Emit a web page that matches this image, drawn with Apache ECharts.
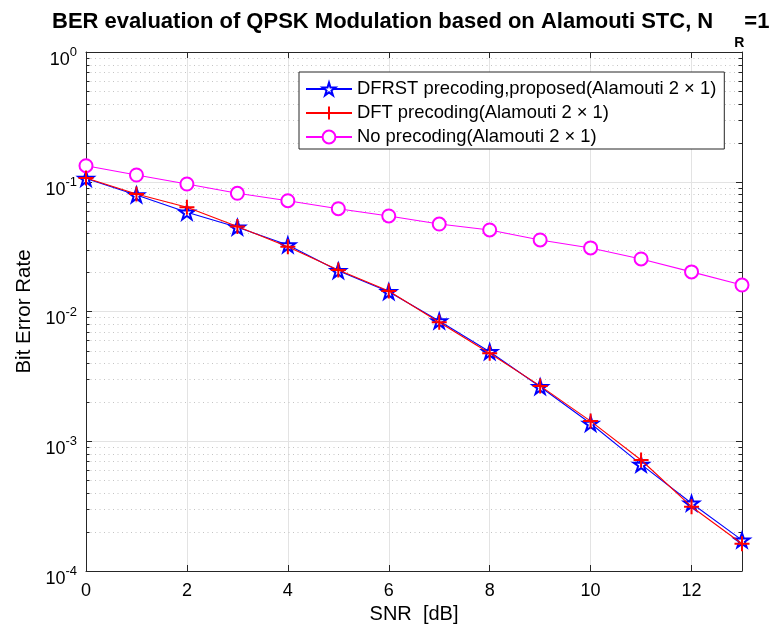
<!DOCTYPE html>
<html><head><meta charset="utf-8">
<script src="https://cdn.jsdelivr.net/npm/echarts@6/dist/echarts.min.js"></script>
<style>html,body{margin:0;padding:0;background:#fff}#c{width:773px;height:630px}</style>
</head><body><div id="c"></div>
<script>
const snr = [0,1,2,3,4,5,6,7,8,9,10,11,12,13];
const berDFRST = [0.106,0.0791,0.0582,0.0446,0.0326,0.0206,0.0142,0.00845,0.00490,0.00263,0.00137,0.000664,0.000333,0.000173];
const berDFT   = [0.107,0.0805,0.0636,0.0452,0.0316,0.0209,0.0144,0.00826,0.00476,0.00267,0.00143,0.000717,0.000313,0.000162];
const berNone  = [0.133,0.1127,0.0961,0.0815,0.0714,0.0620,0.0545,0.0472,0.0425,0.0356,0.0309,0.0254,0.0202,0.0160];
const seriesNames = ['DFRST precoding,proposed(Alamouti 2 \u00d7 1)','DFT precoding(Alamouti 2 \u00d7 1)','No precoding(Alamouti 2 \u00d7 1)'];
const minorGrid = [2e-4,3e-4,4e-4,5e-4,6e-4,7e-4,8e-4,9e-4,
                   2e-3,3e-3,4e-3,5e-3,6e-3,7e-3,8e-3,9e-3,
                   2e-2,3e-2,4e-2,5e-2,6e-2,7e-2,8e-2,9e-2,
                   0.2,0.3,0.4,0.5,0.6,0.7,0.8,0.9];
const xMin = 0, xMax = 13, xStep = 2, yMin = 1e-4, yMax = 1;

const FONT = '"Liberation Sans", Arial, Helvetica, sans-serif';
const AX = '#262626';
const STAR = 'emptyPath://M0,-100 L22.45,-30.9 L95.1,-30.9 L36.33,11.8 L58.78,80.9 L0,38.2 L-58.78,80.9 L-36.33,11.8 L-95.1,-30.9 L-22.45,-30.9 Z';
const PLUS = 'emptyPath://M0,-100 L0,100 M-100,0 L100,0';

const chart = echarts.init(document.getElementById('c'), null, {renderer:'canvas'});
const pair = (ys) => snr.map((x,i)=>[x, ys[i]]);

const yLabel = {
  show:true, margin:9, color:'#000', fontFamily:FONT,
  formatter: v => '{b|10}{s|' + Math.round(Math.log10(v)) + '}',
  rich:{
    b:{fontSize:18, fontFamily:FONT, color:'#000', lineHeight:20, verticalAlign:'top', padding:[9,0,0,0]},
    s:{fontSize:13, fontFamily:FONT, color:'#000', lineHeight:13, verticalAlign:'top', padding:[4,0,0,0]}
  }
};

chart.setOption({
  animation:false,
  backgroundColor:'#fff',
  title:{
    left:52, top:11, padding:0,
    text:'{a|BER evaluation of QPSK Modulation based on Alamouti STC, N}{g| }{s|R}{a|=1}',
    textStyle:{
      fontFamily:FONT, fontSize:22, fontWeight:'bold', color:'#000',
      rich:{
        a:{fontFamily:FONT, fontSize:22, fontWeight:'bold', color:'#000', lineHeight:26, verticalAlign:'top'},
        g:{fontSize:10, width:21, lineHeight:26, verticalAlign:'top'},
        s:{fontFamily:FONT, fontSize:14, fontWeight:'bold', color:'#000', lineHeight:14, verticalAlign:'top', padding:[25,0,0,0]}
      }
    }
  },
  legend:{
    data:seriesNames, orient:'vertical', left:299, top:72,
    itemWidth:46, itemHeight:16, itemGap:6,
    padding:[8,8,3,6],
    backgroundColor:'#fff', borderColor:AX, borderWidth:1,
    textStyle:{fontFamily:FONT, fontSize:18.4, color:'#000'}
  },
  grid:{left:86, top:52, width:656, height:519, containLabel:false},
  xAxis:[{
    type:'value', min:xMin, max:xMax, interval:xStep,
    name:'SNR  [dB]', nameLocation:'middle', nameGap:31,
    nameTextStyle:{fontFamily:FONT, fontSize:20, color:'#000'},
    axisLine:{show:true, onZero:false, lineStyle:{color:AX, width:1}},
    axisTick:{show:true, inside:true, length:6, lineStyle:{color:AX}},
    axisLabel:{show:true, margin:11, fontFamily:FONT, fontSize:18, color:'#000', showMaxLabel:false},
    splitLine:{show:true, lineStyle:{color:'#e3e3e3', width:1}}
  },{
    type:'value', min:xMin, max:xMax, interval:xStep, position:'top',
    axisLine:{show:true, onZero:false, lineStyle:{color:AX, width:1}},
    axisTick:{show:true, inside:true, length:6, lineStyle:{color:AX}},
    axisLabel:{show:false}, splitLine:{show:false}
  }],
  yAxis:[{
    type:'log', logBase:10, min:yMin, max:yMax,
    name:'Bit Error Rate', nameLocation:'middle', nameGap:50,
    nameTextStyle:{fontFamily:FONT, fontSize:20.5, color:'#000'},
    axisLine:{show:true, onZero:false, lineStyle:{color:AX, width:1}},
    axisTick:{show:true, inside:true, length:6, lineStyle:{color:AX}},
    axisLabel:yLabel,
    splitLine:{show:true, lineStyle:{color:'#e3e3e3', width:1}}
  },{
    type:'log', logBase:10, min:yMin, max:yMax, position:'right',
    axisLine:{show:true, onZero:false, lineStyle:{color:AX, width:1}},
    axisTick:{show:true, inside:true, length:6, lineStyle:{color:AX}},
    axisLabel:{show:false}, splitLine:{show:false}
  }],
  series:[
    {
      type:'custom', name:'minorGrid', silent:true, z:1,
      xAxisIndex:0, yAxisIndex:0,
      data:minorGrid.map(v=>[xMin, v]),
      renderItem:(params, api)=>{
        const cs = params.coordSys;
        const y = Math.round(api.coord([xMin, api.value(1)])[1]) + 0.5;
        return {type:'group', children:[
          {type:'line', shape:{x1:cs.x, y1:y, x2:cs.x+cs.width, y2:y}, style:{stroke:'#c4c4c4', lineWidth:1, lineDash:[1,3.5]}},
          {type:'line', shape:{x1:cs.x, y1:y, x2:cs.x+3.5, y2:y}, style:{stroke:AX, lineWidth:1}},
          {type:'line', shape:{x1:cs.x+cs.width-3.5, y1:y, x2:cs.x+cs.width, y2:y}, style:{stroke:AX, lineWidth:1}}
        ]};
      }
    },
    {
      type:'line', name:seriesNames[0], data:pair(berDFRST), z:3,
      symbol:STAR, symbolSize:15, symbolKeepAspect:true,
      itemStyle:{color:'#0000ff', borderWidth:1.3},
      lineStyle:{color:'#0000ff', width:1.1}
    },
    {
      type:'line', name:seriesNames[1], data:pair(berDFT), z:4,
      symbol:PLUS, symbolSize:15,
      itemStyle:{color:'#ff0000', borderWidth:1.3},
      lineStyle:{color:'#ff0000', width:1.1}
    },
    {
      type:'line', name:seriesNames[2], data:pair(berNone), z:3,
      symbol:'emptyCircle', symbolSize:13,
      itemStyle:{color:'#ff00ff', borderWidth:1.3},
      lineStyle:{color:'#ff00ff', width:1.1}
    }
  ]
});
</script></body></html>
